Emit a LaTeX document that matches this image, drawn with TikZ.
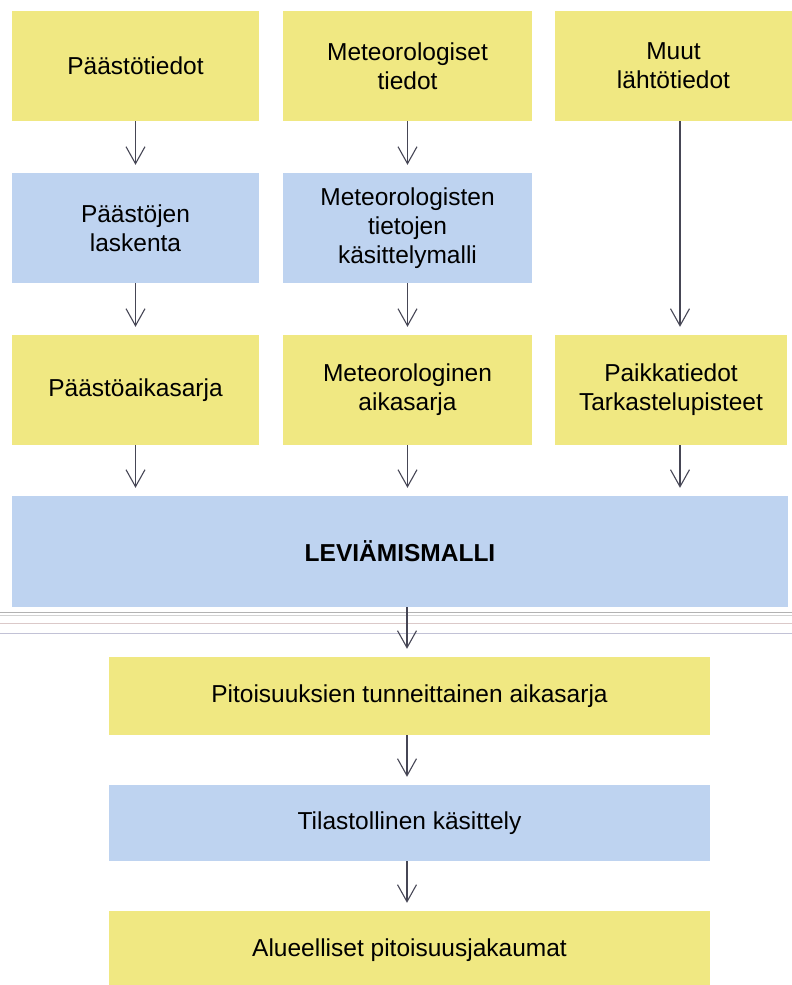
\documentclass[tikz,border=0pt]{standalone}
\usepackage{fontspec}
\setmainfont{Liberation Sans}
\usetikzlibrary{positioning,arrows.meta}
\definecolor{boxyellow}{RGB}{240,232,130}
\definecolor{boxblue}{RGB}{190,211,240}
\definecolor{arrowgray}{RGB}{70,70,85}

\tikzset{
  flowbox/.style={inner sep=0pt, align=center, font=\fontsize{24.5}{29}\selectfont},
  databox/.style={flowbox, fill=boxyellow},
  procbox/.style={flowbox, fill=boxblue},
  flow/.style={draw=arrowgray, line width=1.1pt,
    -{Straight Barb[length=17pt,width=19pt,line width=1.1pt]}, shorten >=8pt}
}

\begin{document}
\begin{tikzpicture}[x=1pt,y=-1pt]
  \useasboundingbox (0,0) rectangle (792,985);

  % scan seam
  \draw[gray!60, line width=0.8pt] (0,612) -- (792,612);
  \draw[gray!35, line width=0.8pt] (0,615) -- (792,615);
  \draw[red!20!gray!35, line width=0.8pt] (0,623) -- (792,623);
  \draw[blue!20!gray!40, line width=0.8pt] (0,633) -- (792,633);

  % row 1: input data
  \node[databox, minimum width=247pt, minimum height=110pt] (emis) at (135.5,66) {Päästötiedot};
  \node[databox, minimum width=249pt, minimum height=110pt] (meteo) at (407.5,66) {Meteorologiset\\tiedot};
  \node[databox, minimum width=237pt, minimum height=110pt] (other) at (673.5,66) {Muut\\lähtötiedot};

  % row 2: preprocessing
  \node[procbox, minimum width=247pt, minimum height=110pt] (emiscalc) at (135.5,228) {Päästöjen\\laskenta};
  \node[procbox, minimum width=249pt, minimum height=110pt] (meteomodel) at (407.5,228) {Meteorologisten\\tietojen\\käsittelymalli};

  % row 3: time series
  \node[databox, minimum width=247pt, minimum height=110pt] (emisseries) at (135.5,390) {Päästöaikasarja};
  \node[databox, minimum width=249pt, minimum height=110pt] (meteoseries) at (407.5,390) {Meteorologinen\\aikasarja};
  \node[databox, minimum width=232pt, minimum height=110pt] (places) at (671,390) {Paikkatiedot\\Tarkastelupisteet};

  % dispersion model
  \node[procbox, minimum width=776pt, minimum height=111pt, font=\fontsize{24.5}{29}\selectfont\bfseries] (model) at (400,551.5) {LEVIÄMISMALLI};

  % results
  \node[databox, minimum width=601pt, minimum height=78pt] (hourly) at (409.5,696) {Pitoisuuksien tunneittainen aikasarja};
  \node[procbox, minimum width=601pt, minimum height=76pt] (stats) at (409.5,823) {Tilastollinen käsittely};
  \node[databox, minimum width=601pt, minimum height=78pt] (maps) at (409.5,950) {Alueelliset pitoisuusjakaumat};

  % connectors
  \coordinate (side) at ([xshift=9pt]places.north);
  \coordinate (down) at ([xshift=-2.5pt]hourly.north);
  \draw[flow] (emis) -- (emiscalc);
  \draw[flow] (meteo) -- (meteomodel);
  \draw[flow] (other.south -| side) -- (side);
  \draw[flow] (emiscalc) -- (emisseries);
  \draw[flow] (meteomodel) -- (meteoseries);
  \draw[flow] (emisseries) -- (emisseries |- model.north);
  \draw[flow] (meteoseries) -- (meteoseries |- model.north);
  \draw[flow] (places.south -| side) -- (side |- model.north);
  \draw[flow] (model.south -| down) -- (down);
  \draw[flow] (hourly.south -| down) -- (stats.north -| down);
  \draw[flow] (stats.south -| down) -- (maps.north -| down);
\end{tikzpicture}
\end{document}
